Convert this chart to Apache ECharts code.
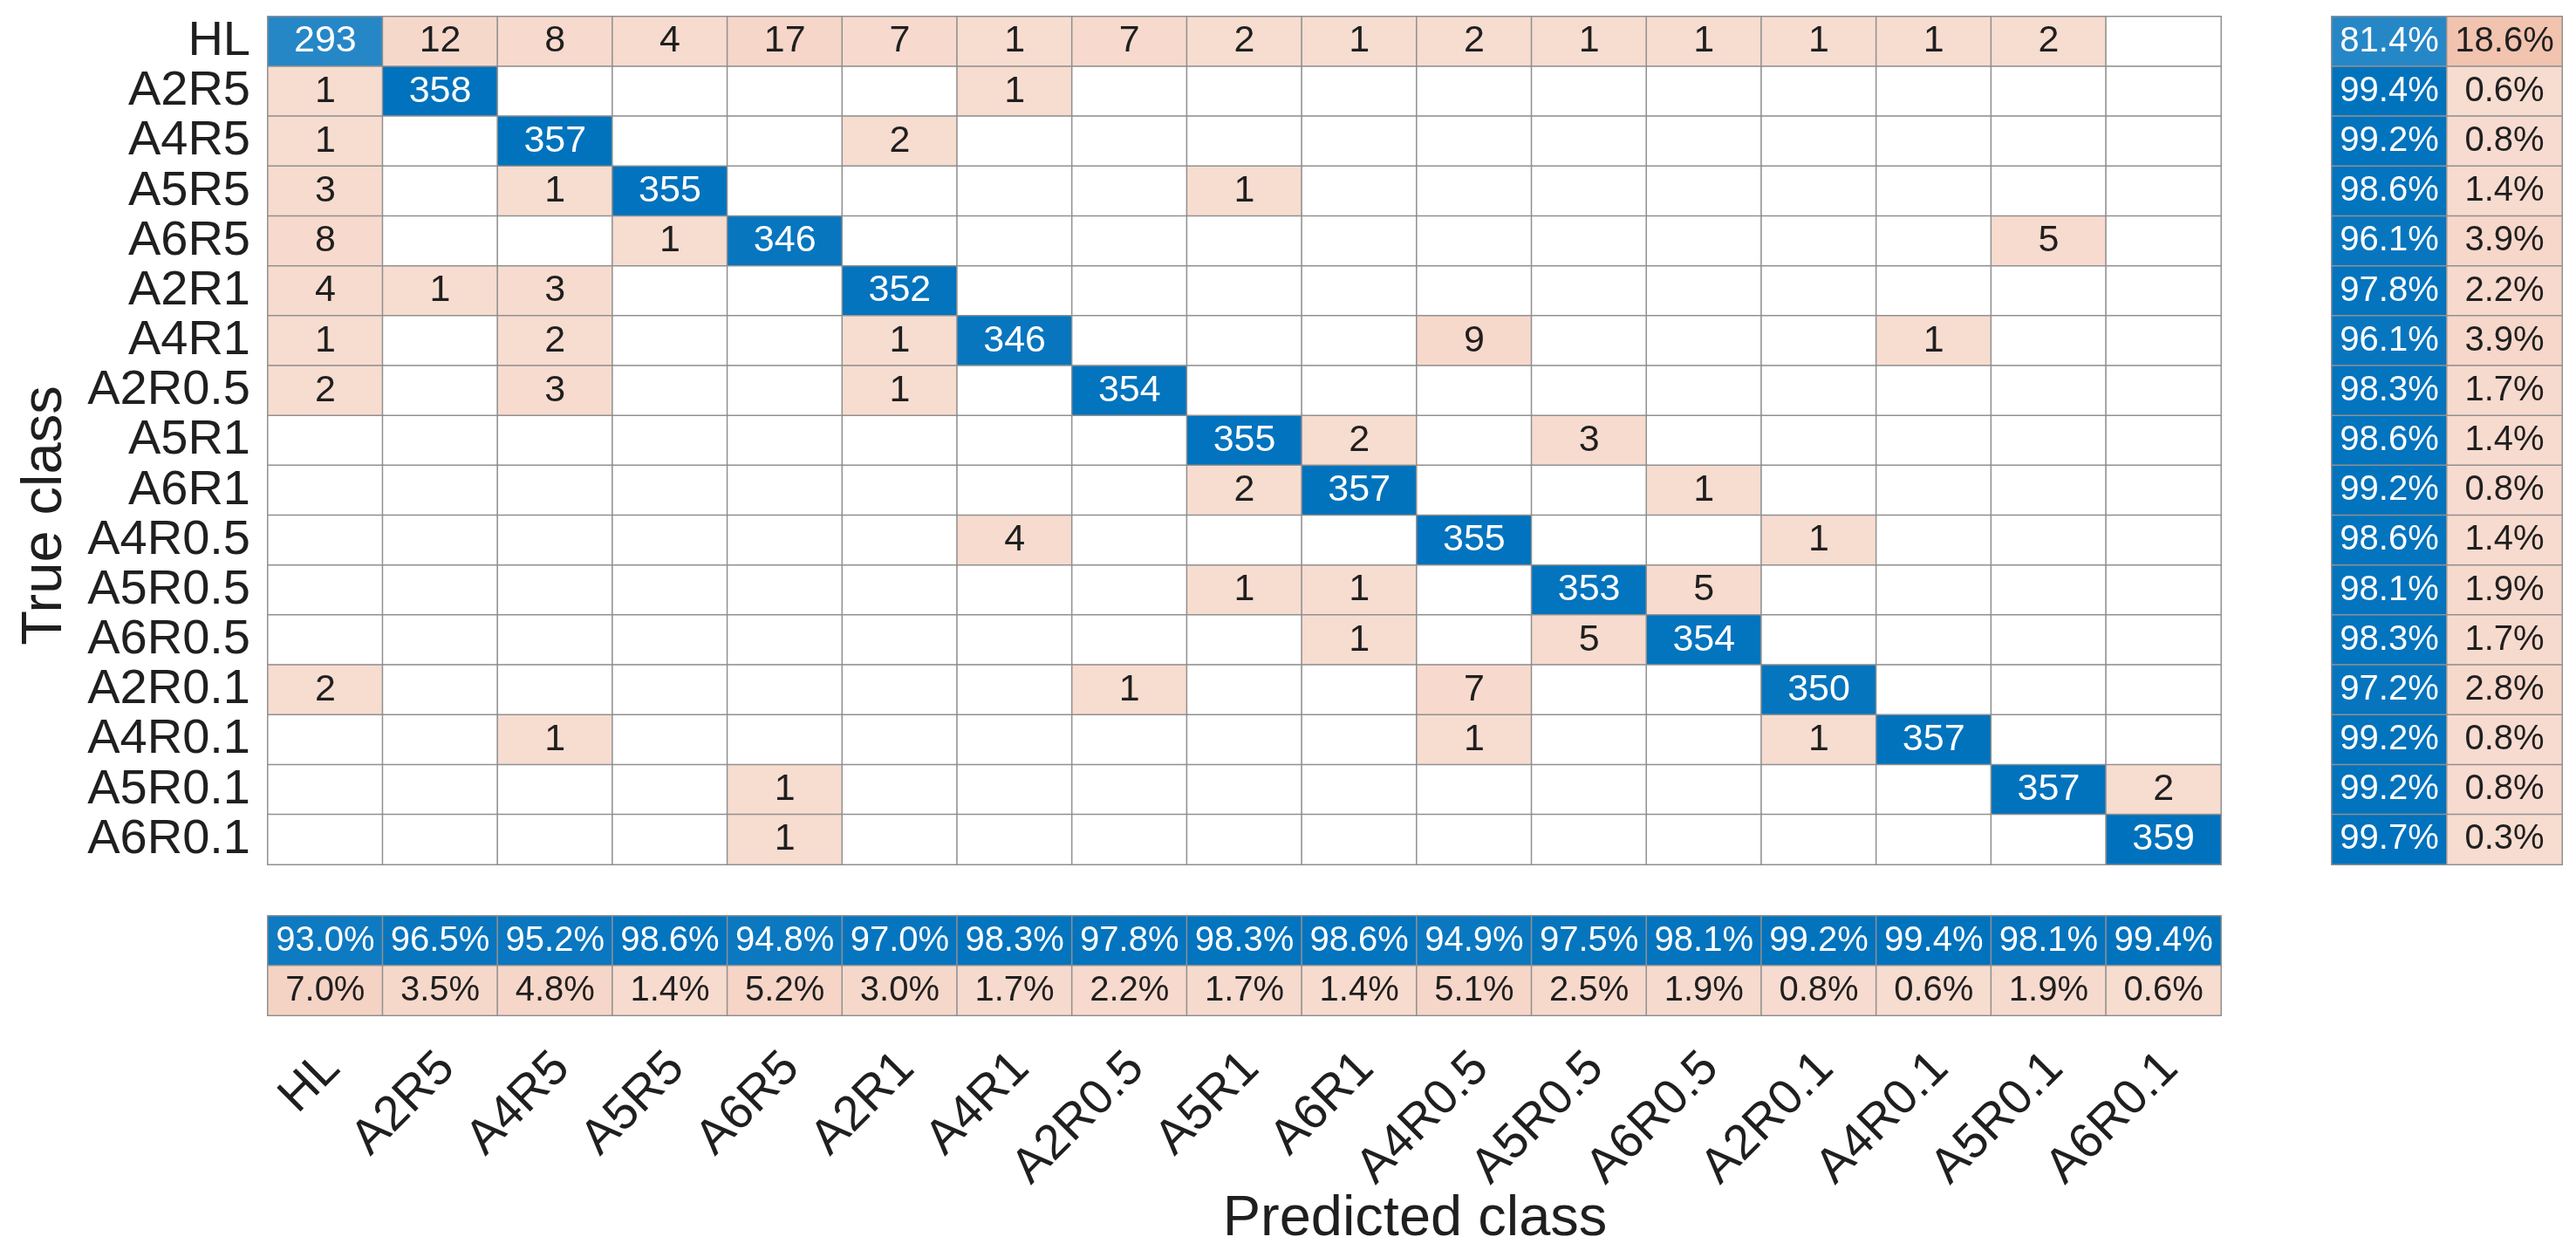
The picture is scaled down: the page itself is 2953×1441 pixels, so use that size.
<!DOCTYPE html>
<html>
<head>
<meta charset="utf-8">
<script src="https://cdn.jsdelivr.net/npm/echarts@6/dist/echarts.min.js"></script>
<style>
html,body{margin:0;padding:0;background:#fff;}
#chart{width:2953px;height:1441px;}
</style>
</head>
<body>
<div id="chart"></div>
<script>
const classes = ['HL','A2R5','A4R5','A5R5','A6R5','A2R1','A4R1','A2R0.5','A5R1','A6R1','A4R0.5','A5R0.5','A6R0.5','A2R0.1','A4R0.1','A5R0.1','A6R0.1'];

// rows = true class, columns = predicted class
const counts = [
  [293,12,8,4,17,7,1,7,2,1,2,1,1,1,1,2,0],
  [1,358,0,0,0,0,1,0,0,0,0,0,0,0,0,0,0],
  [1,0,357,0,0,2,0,0,0,0,0,0,0,0,0,0,0],
  [3,0,1,355,0,0,0,0,1,0,0,0,0,0,0,0,0],
  [8,0,0,1,346,0,0,0,0,0,0,0,0,0,0,5,0],
  [4,1,3,0,0,352,0,0,0,0,0,0,0,0,0,0,0],
  [1,0,2,0,0,1,346,0,0,0,9,0,0,0,1,0,0],
  [2,0,3,0,0,1,0,354,0,0,0,0,0,0,0,0,0],
  [0,0,0,0,0,0,0,0,355,2,0,3,0,0,0,0,0],
  [0,0,0,0,0,0,0,0,2,357,0,0,1,0,0,0,0],
  [0,0,0,0,0,0,4,0,0,0,355,0,0,1,0,0,0],
  [0,0,0,0,0,0,0,0,1,1,0,353,5,0,0,0,0],
  [0,0,0,0,0,0,0,0,0,1,0,5,354,0,0,0,0],
  [2,0,0,0,0,0,0,1,0,0,7,0,0,350,0,0,0],
  [0,0,1,0,0,0,0,0,0,0,1,0,0,1,357,0,0],
  [0,0,0,0,1,0,0,0,0,0,0,0,0,0,0,357,2],
  [0,0,0,0,1,0,0,0,0,0,0,0,0,0,0,0,359]
];

const rowCorrectPct = [81.4,99.4,99.2,98.6,96.1,97.8,96.1,98.3,98.6,99.2,98.6,98.1,98.3,97.2,99.2,99.2,99.7];
const rowErrorPct   = [18.6,0.6,0.8,1.4,3.9,2.2,3.9,1.7,1.4,0.8,1.4,1.9,1.7,2.8,0.8,0.8,0.3];
const colCorrectPct = [93.0,96.5,95.2,98.6,94.8,97.0,98.3,97.8,98.3,98.6,94.9,97.5,98.1,99.2,99.4,98.1,99.4];
const colErrorPct   = [7.0,3.5,4.8,1.4,5.2,3.0,1.7,2.2,1.7,1.4,5.1,2.5,1.9,0.8,0.6,1.9,0.6];

const summaryCols = ['correct','incorrect'];

const FONT = "'Liberation Sans', Arial, Helvetica, sans-serif";
const BLUE = [0,114,189];
const RED = [217,83,25];
const BORDER = '#909090';
const DARK = '#1f1f1f';

function blend(base, frac){
  const t = 0.2 + 0.8*Math.max(0, Math.min(1, frac));
  const c = base.map(v => Math.round(255*(1-t) + v*t));
  return 'rgb(' + c.join(',') + ')';
}

const maxCount = Math.max(...counts.map(r => Math.max(...r)));

const mainData = [];
counts.forEach((row, i) => {
  row.forEach((v, j) => {
    const diag = i === j;
    let color = '#ffffff';
    if (v > 0) color = diag ? blend(BLUE, v/maxCount) : blend(RED, v/maxCount);
    mainData.push({
      value: [j, i, v],
      itemStyle: {color: color},
      label: {color: diag ? '#ffffff' : DARK}
    });
  });
});

const rightData = [];
classes.forEach((c, i) => {
  rightData.push({value: [0, i, rowCorrectPct[i]], itemStyle: {color: blend(BLUE, rowCorrectPct[i]/100)}, label: {color: '#ffffff'}});
  rightData.push({value: [1, i, rowErrorPct[i]], itemStyle: {color: blend(RED, rowErrorPct[i]/100)}, label: {color: DARK}});
});

const bottomData = [];
classes.forEach((c, j) => {
  bottomData.push({value: [j, 0, colCorrectPct[j]], itemStyle: {color: blend(BLUE, colCorrectPct[j]/100)}, label: {color: '#ffffff'}});
  bottomData.push({value: [j, 1, colErrorPct[j]], itemStyle: {color: blend(RED, colErrorPct[j]/100)}, label: {color: DARK}});
});

const hidden = {show: false};
const chart = echarts.init(document.getElementById('chart'), null, {renderer: 'canvas'});

const option = {
  backgroundColor: '#ffffff',
  animation: false,
  grid: [
    {left: 307, top: 19, width: 2239, height: 972},
    {left: 2673, top: 19, width: 264, height: 972},
    {left: 307, top: 1050, width: 2239, height: 114},
    // label carrier for the predicted-class tick labels (same columns, labels nudged right)
    {left: 315, top: 1050, width: 2239, height: 114}
  ],
  xAxis: [
    {gridIndex: 0, type: 'category', data: classes, show: false},
    {gridIndex: 1, type: 'category', data: summaryCols, show: false},
    {gridIndex: 2, type: 'category', data: classes, show: false},
    {gridIndex: 3, type: 'category', data: classes, position: 'bottom',
      axisLine: hidden, axisTick: hidden, splitLine: hidden,
      axisLabel: {interval: 0, rotate: 45, margin: 52, fontSize: 56, fontFamily: FONT, color: DARK}}
  ],
  yAxis: [
    {gridIndex: 0, type: 'category', data: classes, inverse: true,
      axisLine: hidden, axisTick: hidden, splitLine: hidden,
      axisLabel: {interval: 0, margin: 20, fontSize: 56, fontFamily: FONT, color: DARK}},
    {gridIndex: 1, type: 'category', data: classes, inverse: true, show: false},
    {gridIndex: 2, type: 'category', data: summaryCols, inverse: true, show: false},
    {gridIndex: 3, type: 'category', data: summaryCols, inverse: true, show: false}
  ],
  series: [
    {type: 'heatmap', xAxisIndex: 0, yAxisIndex: 0, data: mainData,
      itemStyle: {borderColor: BORDER, borderWidth: 1.5},
      label: {show: true, fontSize: 43, fontFamily: FONT,
        formatter: p => (p.value[2] > 0 ? String(p.value[2]) : '')},
      emphasis: {disabled: true}},
    {type: 'heatmap', xAxisIndex: 1, yAxisIndex: 1, data: rightData,
      itemStyle: {borderColor: BORDER, borderWidth: 1.5},
      label: {show: true, fontSize: 40, fontFamily: FONT,
        formatter: p => p.value[2].toFixed(1) + '%'},
      emphasis: {disabled: true}},
    {type: 'heatmap', xAxisIndex: 2, yAxisIndex: 2, data: bottomData,
      itemStyle: {borderColor: BORDER, borderWidth: 1.5},
      label: {show: true, fontSize: 40, fontFamily: FONT,
        formatter: p => p.value[2].toFixed(1) + '%'},
      emphasis: {disabled: true}}
  ],
  graphic: [
    {type: 'text', x: 1622, y: 1398,
      style: {text: 'Predicted class', fontSize: 65, fontFamily: FONT, fill: DARK, textAlign: 'center', textVerticalAlign: 'middle'}},
    {type: 'text', x: 52, y: 591, rotation: Math.PI/2,
      style: {text: 'True class', fontSize: 65, fontFamily: FONT, fill: DARK, textAlign: 'center', textVerticalAlign: 'middle'}}
  ]
};
chart.setOption(option);
</script>
</body>
</html>
